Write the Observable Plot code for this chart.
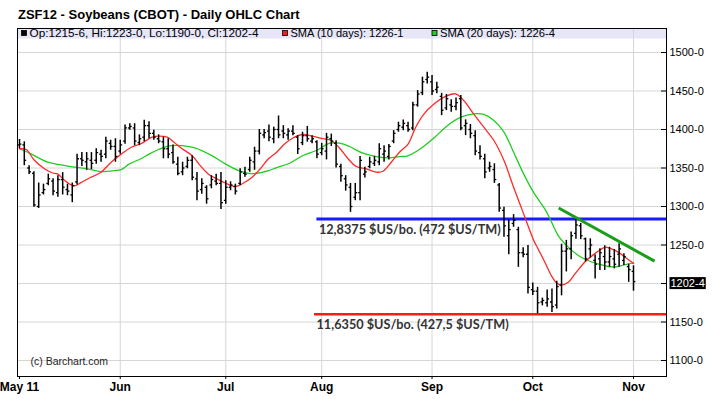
<!DOCTYPE html>
<html><head><meta charset="utf-8">
<script src="https://cdn.jsdelivr.net/npm/d3@7"></script>
<script src="https://cdn.jsdelivr.net/npm/@observablehq/plot@0.6"></script>
<style>
body{margin:0;background:#fff;width:715px;height:399px;overflow:hidden;font-family:"Liberation Sans",Arial,sans-serif}
#title{box-sizing:border-box;height:24px;padding:8px 0 0 18px;font-size:13px;line-height:13px;font-weight:bold;color:#000;white-space:nowrap}
#chart svg{display:block}
</style></head><body>
<div id="title">ZSF12 - Soybeans (CBOT) - Daily OHLC Chart</div>
<div id="chart"></div>
<script>
// ---- data ----
const hi = [1387,1384,1353,1345,1330.5,1329,1342,1336,1340,1344, 1329,1330.5,1368,1370,1370,1370,1375,1373,1390,1386, 1388,1386,1406,1407.5,1407.5,1393,1412,1410,1399,1393, 1390,1388,1380,1364,1357.5,1364,1366,1344,1336,1327, 1340,1342,1344,1333.5,1332,1329,1349,1351,1364,1377, 1400,1400,1406,1403,1417.5,1405,1401,1405,1392,1396.5, 1404,1392,1385.5,1382,1395,1394,1385.5,1355,1340,1330, 1330,1365,1351,1364,1365,1381.5,1379,1380.5,1398.5,1409.5, 1412.5,1409.5,1435.5,1450.5,1468,1474.5,1470,1461.5,1447,1445.5, 1438.5,1441,1444,1412.5,1406.5,1398.5,1379,1368,1357.5,1355.5, 1330,1299,1282.5,1289.5,1273,1246.5,1249.5,1200.5,1195,1181, 1191.5,1193,1203,1251,1256,1267,1283,1278,1259,1258, 1237,1245,1249,1247,1244,1251.5,1238.5,1225,1223];
const lo = [1375,1353,1341.5,1299,1297.5,1315,1327,1314,1312,1315, 1314,1305,1328,1352,1347,1348,1355,1357.5,1362,1373, 1357.5,1368,1381,1399,1379,1379,1384,1388,1386,1381.5, 1362,1362,1355,1340,1340,1349,1333.5,1307.5,1316,1303, 1323,1327,1296,1303,1320.5,1315,1327,1338,1344.5,1347, 1367,1388,1384,1381.5,1388,1388,1386,1392,1367.5,1379, 1383.5,1381.5,1362,1366,1360.5,1378,1350,1331.5,1320,1292.5, 1307.5,1307.5,1337,1349,1352,1353,1357.5,1360.5,1381.5,1396.5, 1398.5,1396.5,1398.5,1429,1444,1459,1444,1446.5,1418,1424.5, 1422.5,1424.5,1398.5,1392,1388,1366,1360.5,1336,1344.5,1330, 1292.5,1260,1237.5,1273,1221,1233.5,1186.5,1184.5,1160.5,1171, 1169,1162.5,1167,1184,1215,1231,1257.5,1257,1228,1233, 1206,1217,1217,1221,1219,1221,1223.5,1201.5,1190];
const op = [1380,1380,1350,1343,1300,1318,1330,1333,1318,1335, 1322,1315,1332,1362,1358,1360,1360,1368,1368,1382, 1378,1372,1385,1402,1402,1383,1390,1405,1395,1388, 1384,1375,1370,1355,1345,1352,1360,1336,1322,1325, 1328,1333,1330,1308,1325,1326,1330,1343,1348,1358, 1372,1393,1398,1388,1400,1398,1393,1398,1390,1383, 1392,1385,1384,1370,1372,1388,1382,1352,1336,1325, 1312,1318,1342,1352,1356,1358,1368,1365,1385,1400, 1403,1405,1402,1432,1448,1465,1462,1452,1443,1428, 1432,1430,1440,1405,1400,1392,1370,1362,1350,1348, 1328,1295,1262,1278,1270,1240,1238,1192,1190,1176, 1175,1176,1172,1198,1242,1245,1265,1275,1258,1245, 1230,1232,1235,1228,1232,1238,1230,1222,1215.75];
const cl = [1381,1360,1345,1302,1315,1322,1336,1320,1335,1325, 1320,1327,1362,1360,1362,1356,1370,1365,1385,1378, 1365,1380,1402,1404,1385,1388,1405,1395,1390,1385, 1375,1368,1358,1343,1350,1360,1338,1320,1330,1310, 1335,1330,1305,1325,1328,1320,1345,1342,1360,1372, 1395,1396,1390,1400,1393,1395,1398,1395,1375,1392, 1388,1388,1368,1375,1390,1385,1355,1340,1328,1300, 1318,1360,1345,1358,1360,1375,1372,1378,1395,1405, 1408,1400,1432,1446,1462,1468,1450,1455,1425,1440, 1430,1435,1402,1408,1395,1372,1365,1345,1352,1335, 1298,1275,1270,1282,1240,1238,1195,1190,1175,1178, 1180,1170,1196,1242,1245,1262,1276,1262,1232,1250, 1225,1240,1228,1235,1225,1245,1235,1218,1202.5];

const sma10Idx = [0,1.4,3.1,5.2,6.9,8,9.4,10.8,11.6,12.8,14.9,17,19.1,21.2,23.3,25.3,27.6,29,30.8,32.2,33.9,36,37.7,39.4,41.2,42.9,45,46.7,48.5,50.2,51.9,53.6,55.3,57,59.1,61.2,63.3,65,66.7,68.5,70.2,72.3,74.4,75.8,77.5,79.2,81,82.6,84.3,86.4,88.5,90.9,92.6,94.7,96.8,98.9,101,103,105.1,107.2,108.1,109.5,110.9,111.9,112.9,114.4,115.8,117.8,119.9,122,123,124.8,126.5,128];
const sma10Val = [1375,1374,1360,1349,1343.5,1342,1334,1328,1327,1331,1338,1344.5,1357.5,1368,1377,1381.5,1390,1391.5,1390,1383.5,1375,1366,1353,1342,1335.7,1330.5,1326,1330.5,1338,1349,1362,1370.5,1381.4,1389,1393.5,1391,1388,1385.7,1376,1362,1352,1349,1344.6,1345.8,1357.5,1370.5,1381,1403,1420,1433,1442,1446.3,1437.6,1420,1403,1385.7,1359.7,1325,1290.4,1256,1245,1228,1210,1201,1198,1201.7,1212.5,1227.7,1238.5,1247,1246,1240.7,1233,1226.125];
const sma20Idx = [0,2.4,5.9,8.7,11.5,14.2,17,19.8,21.2,22.9,25.3,27,29,31.5,33.9,36.7,40.1,42.9,45.7,47.8,49.9,51.9,53.5,56.3,59.1,61.9,64.7,66.7,68.8,71.6,74.4,77.1,79.2,80.8,83.6,86.4,89.2,92,94.7,96.8,98.9,101,103,105.1,107.2,109.5,110.6,112.3,114.4,116.5,118.5,120.6,122.7,124.8,126.9,128];
const sma20Val = [1375,1368.4,1357.5,1354,1351,1349,1345.3,1346.6,1348,1355.3,1362,1368,1374,1379,1379,1375.8,1366,1355.3,1346.6,1343,1343.5,1346.6,1350.2,1356.2,1366.2,1372.7,1382.2,1382.2,1377.9,1369.2,1364.9,1363.2,1364.9,1365.5,1375,1389,1405,1416,1420.3,1419.5,1411.7,1396.5,1370.5,1342.4,1318,1297,1284,1262.3,1247.2,1236.4,1229.9,1225.5,1222.1,1222.1,1225.5,1226.5];

const monthIdx = [0,21,43,63,86,107,128];
const monthLabels = ["May 11","Jun","Jul","Aug","Sep","Oct","Nov"];
const yTicks = [1100,1150,1200,1250,1300,1350,1400,1450,1500];
const yLabelTicks = [1100,1150,1250,1300,1350,1400,1450,1500];

const levelValues = [1283.75, 1160];
const levelStart = [62, 61.5];
const levelLabels = ["12,8375 $US/bo. (472 $US/TM)", "11,6350 $US/bo. (427,5 $US/TM)"];
const trendIdx = [112.4, 132.4];
const trendVal = [1298, 1229];

// ---- layout ----
const W = 715, H = 375, mL = 17, mR = 49, mT = 4, mB = 23;
const xRange = [19, 633], xDomain = [0, 128];
const xRightEdge = xDomain[1] + (W - mR - xRange[1]) * (xDomain[1] - xDomain[0]) / (xRange[1] - xRange[0]);

// ---- derived tables ----
const fmt8 = v => { const w = Math.floor(v); return `${w}-${Math.round((v - w) * 8)}`; };
const bars = hi.map((h, i) => ({i, h, l: lo[i], o: op[i], c: cl[i]}));
const sma10 = sma10Idx.map((x, k) => ({x, v: sma10Val[k]}));
const sma20 = sma20Idx.map((x, k) => ({x, v: sma20Val[k]}));
const levels = levelValues.map((v, k) => ({v, start: levelStart[k], end: xRightEdge, label: levelLabels[k]}));
const trend = [{x1: trendIdx[0], y1: trendVal[0], x2: trendIdx[1], y2: trendVal[1]}];
const last = bars[bars.length - 1];
const lastLabel = fmt8(last.c);

const chart = Plot.plot({
  width: W, height: H,
  marginTop: mT, marginBottom: mB, marginLeft: mL, marginRight: mR,
  x: {domain: xDomain, range: xRange},
  y: {domain: [1100, 1500], range: [336, 28]},
  style: {fontFamily: "'Liberation Sans', Arial, sans-serif", fontSize: "11px", background: "white", color: "black", overflow: "visible"},
  marks: [
    Plot.ruleY(yTicks, {stroke: "#d6d6d6", strokeWidth: 1}),
    Plot.ruleX(monthIdx.slice(1), {stroke: "#d6d6d6", strokeWidth: 1}),
    Plot.ruleY(yTicks, {stroke: "black", strokeWidth: 1, insetLeft: W - mL - mR - 5}),
    Plot.axisY(yLabelTicks, {anchor: "right", tickSize: 0, tickPadding: 3, tickFormat: d => `${d}-0`, fontSize: 11, label: null}),
    Plot.axisX(monthIdx, {anchor: "bottom", tickSize: 3, tickPadding: 3, tickFormat: d => monthLabels[monthIdx.indexOf(d)], fontSize: 12, fontWeight: "bold", label: null}),
    // level lines
    Plot.ruleY(levels.slice(0, 1), {y: "v", x1: "start", x2: "end", stroke: "#1a1aff", strokeWidth: 3}),
    Plot.ruleY(levels.slice(1), {y: "v", x1: "start", x2: "end", stroke: "#ff1a1a", strokeWidth: 2.5}),
    // moving averages
    Plot.line(sma20, {x: "x", y: "v", stroke: "#22cc22", strokeWidth: 1.3, curve: "catmull-rom"}),
    Plot.line(sma10, {x: "x", y: "v", stroke: "#ff2a2a", strokeWidth: 1.3, curve: "catmull-rom"}),
    // OHLC bars
    Plot.ruleX(bars, {x: "i", y1: "l", y2: "h", stroke: "black", strokeWidth: 1.5}),
    Plot.link(bars, {x1: d => d.i - 0.4, x2: "i", y1: "o", y2: "o", stroke: "black", strokeWidth: 1.3}),
    Plot.link(bars, {x1: "i", x2: d => d.i + 0.4, y1: "c", y2: "c", stroke: "black", strokeWidth: 1.3}),
    // trend line
    Plot.link(trend, {x1: "x1", y1: "y1", x2: "x2", y2: "y2", stroke: "#1a9e1a", strokeWidth: 3}),
    // annotations
    Plot.text(levels, {x: "start", y: "v", text: "label", textAnchor: "start", dx: 2, dy: 11, fontSize: 12.7, fontWeight: "bold", fill: "#333", fontFamily: "Lato, 'Open Sans', sans-serif"}),
    Plot.text(["(c) Barchart.com"], {frameAnchor: "bottom-left", dx: 13, dy: -12, textAnchor: "start", fontSize: 10.5, fill: "#222"}),
    Plot.text([last], {y: "c", text: () => lastLabel, frameAnchor: "right", textAnchor: "start", dx: 4, dy: 2, fill: "white", fontSize: 11}),
    Plot.frame({stroke: "black"})
  ]
});
document.getElementById("chart").appendChild(chart);

// legend band + last price box
const svg = d3.select(chart);
svg.insert("rect", ":first-child").attr("x", mL).attr("y", mT).attr("width", W - mL - mR).attr("height", 10.5).attr("fill", "#e6e6f8");
svg.insert("rect", ":first-child").attr("x", 0).attr("y", 0).attr("width", W).attr("height", H).attr("fill", "white");
const leg = svg.append("g").attr("font-size", 11).attr("text-anchor", "start").attr("font-family", "'Liberation Sans', Arial, sans-serif").attr("fill", "black");
const items = [
  {x: 21.5, color: "black", text: `Op:${fmt8(last.o)}, Hi:${fmt8(last.h)}, Lo:${fmt8(last.l)}, Cl:${fmt8(last.c)}`, len: 229},
  {x: 282.5, color: "#ff1a1a", text: `SMA (10 days): ${fmt8(sma10Val[sma10Val.length - 1])}`, len: 113},
  {x: 432, color: "#22cc22", text: `SMA (20 days): ${fmt8(sma20Val[sma20Val.length - 1])}`, len: 115}
];
for (const it of items) {
  leg.append("rect").attr("x", it.x).attr("y", 6.5).attr("width", 5).attr("height", 5).attr("fill", it.color).attr("stroke", "black").attr("stroke-width", 0.8);
  leg.append("text").attr("x", it.x + 8).attr("y", 12.5).attr("textLength", it.len).attr("lengthAdjust", "spacingAndGlyphs").text(it.text);
}
svg.selectAll("text").filter(function () { return this.textContent === lastLabel; }).each(function () {
  const bb = this.getBBox();
  const r = d3.select(this.parentNode).insert("rect", () => this)
    .attr("x", bb.x - 1).attr("y", bb.y).attr("width", bb.width + 2).attr("height", bb.height).attr("fill", "black");
  const tr = this.getAttribute("transform");
  if (tr) r.attr("transform", tr);
});
</script>
</body></html>
